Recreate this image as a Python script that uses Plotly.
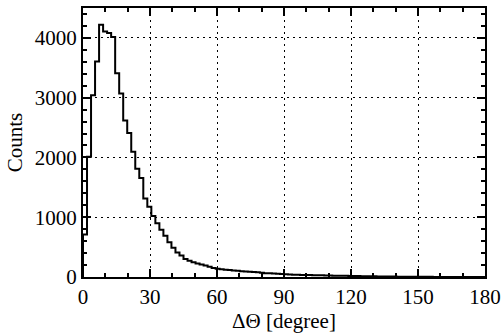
import numpy as np
import plotly.graph_objects as go

# Histogram: Delta Theta in 1.8 degree bins from 0 to 180
bin_width = 1.8
counts = [
    710, 2010, 3040, 3605, 4220, 4105, 4080, 4015, 3410, 3070,
    2620, 2410, 2095, 1810, 1655, 1315, 1175, 1020, 900, 790,
    690, 580, 490, 410, 360, 300, 272, 245, 225, 210,
    192, 172, 152, 140, 130, 122, 118, 110, 104, 96,
    90, 86, 82, 78, 70, 64, 61, 60, 56, 50,
    44, 40, 38, 36, 35, 34, 32, 31, 30, 28,
    26, 24, 22, 21, 20, 19, 18, 17, 16, 14,
    13, 12, 11, 10, 9, 8, 8, 7, 6, 6,
    5, 5, 4, 4, 3, 3, 3, 2, 2, 2,
    2, 1, 1, 1, 1, 1, 0, 0, 0, 0,
]
x_ticks = [0, 30, 60, 90, 120, 150, 180]
y_ticks = [0, 1000, 2000, 3000, 4000]

edges = np.arange(len(counts) + 1) * bin_width
xs = np.concatenate([[0.0], edges])
ys = np.concatenate([[0], counts, [counts[-1]]])

fig = go.Figure()
fig.add_trace(go.Scatter(
    x=xs, y=ys, mode="lines", line=dict(shape="hv", color="black", width=2),
    showlegend=False, hoverinfo="skip",
))

font_family = "Liberation Serif"
tick_font = dict(family=font_family, size=21, color="black")
axis_common = dict(
    showline=True, linecolor="black", linewidth=2, mirror="allticks",
    ticks="inside", ticklen=8, tickwidth=1.5, tickcolor="black",
    showgrid=True, gridcolor="black", gridwidth=1, griddash="1.5px,4.5px",
    zeroline=False, automargin=False,
)

fig.update_xaxes(
    range=[0, 180], tickvals=x_ticks, ticktext=[str(v) for v in x_ticks],
    tickfont=tick_font,
    minor=dict(ticks="inside", ticklen=4, tickwidth=1.5, tickcolor="black", dtick=10, tick0=0, showgrid=False),
    title=dict(text="ΔΘ [degree]", font=dict(family=font_family, size=21, color="black"), standoff=0),
    **axis_common,
)
fig.update_yaxes(
    range=[0, 4500], tickvals=y_ticks, ticktext=[str(v) for v in y_ticks],
    tickfont=tick_font,
    minor=dict(ticks="inside", ticklen=4, tickwidth=1.5, tickcolor="black", dtick=200, tick0=0, showgrid=False),
    title=dict(text="Counts", font=dict(family=font_family, size=21, color="black"), standoff=6),
    **axis_common,
)

fig.update_layout(
    width=501, height=336,
    margin=dict(l=83, r=16, t=8, b=59),
    paper_bgcolor="white", plot_bgcolor="white",
    font=dict(family=font_family, color="black", size=21),
)

fig.write_html(
    "out.html",
    config={"displayModeBar": False},
    post_script="document.body.style.margin='0';document.body.style.padding='0';",
)
